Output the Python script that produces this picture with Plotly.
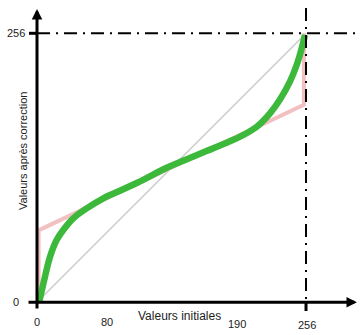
import plotly.graph_objects as go

# ---- data ----
diag_x = [0, 256]
diag_y = [0, 256]
pink_x = [1.5, 1.5, 254, 254]
pink_y = [0, 68.5, 188, 256]
green_x = [2, 7.6, 12.4, 18.7, 25, 34.5, 47.3, 63.1, 79, 94.9, 123.4, 136.1, 167.8,
           193.2, 209.1, 221.7, 231.2, 240.7, 247.1, 251.9, 255]
green_y = [0, 24.4, 43.4, 59.3, 68.8, 79.9, 89.4, 99, 106.2, 113.5, 128, 133.5, 146.5,
           157.6, 167.1, 179.8, 193, 210, 225.8, 241.7, 254.3]
y_tick_vals = [0, 256]
y_tick_text = ["0", "256"]
x_tick_vals = [0, 66.6, 190.3, 256.5]
x_tick_text = ["0", "80", "190", "256"]
x_title = "Valeurs initiales"
y_title = "Valeurs après correction"
MAXV = 256

FONT = "Liberation Sans, Arial, sans-serif"
TXT = "#222222"

fig = go.Figure()
fig.add_trace(go.Scatter(x=diag_x, y=diag_y, mode="lines",
                         line=dict(color="#cccccc", width=1.5), hoverinfo="skip"))
fig.add_trace(go.Scatter(x=pink_x, y=pink_y, mode="lines",
                         line=dict(color="#f2c0c0", width=4), hoverinfo="skip"))
fig.add_trace(go.Scatter(x=green_x, y=green_y, mode="lines",
                         line=dict(color="#3cb93a", width=6.5, shape="spline", smoothing=1.0),
                         hoverinfo="skip"))

shapes = []
# dash-dot guide lines
dd = "13px,6px,2px,6px"
shapes.append(dict(type="line", xref="x", yref="y", x0=0, x1=307.4, y0=MAXV, y1=MAXV,
                   line=dict(color="black", width=2, dash=dd), layer="above"))
shapes.append(dict(type="line", xref="x", yref="y", x0=MAXV, x1=MAXV, y0=280, y1=0,
                   line=dict(color="black", width=2, dash=dd), layer="above"))
# tick marks
shapes.append(dict(type="line", xref="x", yref="y", x0=-7.6, x1=0, y0=MAXV, y1=MAXV,
                   line=dict(color="black", width=3), layer="above"))
shapes.append(dict(type="line", xref="x", yref="y", x0=MAXV, x1=MAXV, y0=0, y1=-8.3,
                   line=dict(color="black", width=3), layer="above"))

annotations = []
# axes with arrows
annotations.append(dict(x=304.5, y=0, ax=-9.5, ay=0, xref="x", yref="y", axref="x", ayref="y",
                        text="", showarrow=True, arrowhead=2, arrowsize=0.7, arrowwidth=3,
                        arrowcolor="black"))
annotations.append(dict(x=0, y=279.1, ax=0, ay=-7.3, xref="x", yref="y", axref="x", ayref="y",
                        text="", showarrow=True, arrowhead=2, arrowsize=0.7, arrowwidth=3,
                        arrowcolor="black"))
# tick labels
for v, t in zip(y_tick_vals, y_tick_text):
    annotations.append(dict(x=-20, y=v, xref="x", yref="y", text=t, showarrow=False,
                            font=dict(family=FONT, size=11, color=TXT)))
x_label_y = [-18.7, -18.7, -20.2, -21.6]
for v, t, yy in zip(x_tick_vals, x_tick_text, x_label_y):
    annotations.append(dict(x=v, y=yy, xref="x", yref="y", text=t, showarrow=False,
                            font=dict(family=FONT, size=11, color=TXT)))
annotations.append(dict(x=136, y=-13, xref="x", yref="y", text=x_title, showarrow=False,
                        font=dict(family=FONT, size=12, color=TXT)))
annotations.append(dict(x=-13.3, y=144, xref="x", yref="y", text=y_title, showarrow=False,
                        textangle=-90, font=dict(family=FONT, size=11, color=TXT)))

fig.update_layout(
    width=360, height=335, margin=dict(l=0, r=0, t=0, b=0),
    paper_bgcolor="white", plot_bgcolor="white", showlegend=False,
    xaxis=dict(range=[-35.21, 307.38], visible=False, fixedrange=True),
    yaxis=dict(range=[-31.12, 287.69], visible=False, fixedrange=True),
    shapes=shapes, annotations=annotations,
)
fig.write_html("out.html", config={"displayModeBar": False})
